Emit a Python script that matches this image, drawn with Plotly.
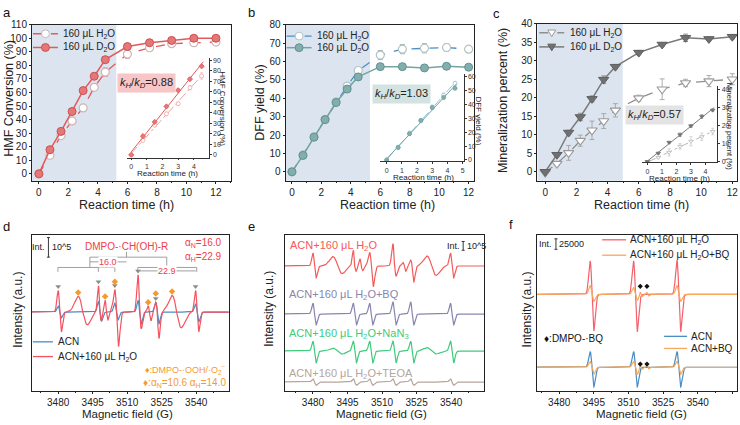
import numpy as np
import plotly.graph_objects as go

# ---------------- data ----------------
time_h = [0, 0.75, 1.5, 2.25, 3, 3.75, 4.5, 6, 7.5, 9, 10.5, 12]

hmf_h2o = [0, 13.7, 28.2, 39.0, 48.6, 63.8, 75.0, 88.3, 93.0, 96.0, 96.7, 97.2]
hmf_h2o_err = [0.5, 1, 1.5, 1.5, 1.5, 2, 3, 3, 1.5, 1.5, 1.5, 1.5]
hmf_d2o = [0, 17.8, 31.3, 46.0, 61.4, 72.0, 84.2, 93.9, 96.7, 98.4, 100, 100]
hmf_d2o_err = [0.5, 1, 1, 1, 1.5, 1, 1, 1, 1, 1, 1, 1]

dff_h2o = [0, 9.2, 19.2, 28.4, 38.0, 46.6, 55.1, 63.5, 66.7, 67.2, 67.6, 66.7]
dff_h2o_err = [0.5, 1, 1.5, 1.5, 1.5, 1.5, 1.5, 2.5, 2.5, 2.5, 2, 1.5]
dff_d2o = [0, 8.9, 18.8, 28.4, 37.7, 45.0, 51.6, 57.2, 57.2, 56.5, 57.4, 56.9]
dff_d2o_err = [0.5, 1, 1, 1, 1, 1, 1, 0.8, 0.8, 0.8, 0.8, 0.8]

min_h2o = [-0.2, 2.2, 5.1, 8.4, 11.2, 13.7, 16.6, 19.9, 22.3, 24.0, 24.5, 25.0]
min_h2o_err = [0.3, 0.5, 2, 1.5, 2.5, 2, 1.8, 0.8, 2.8, 1, 1.5, 1.5]
min_d2o = [0, 4.6, 10.6, 14.8, 19.7, 24.9, 28.4, 32.2, 34.4, 36.2, 35.9, 36.5]
min_d2o_err = [0.2, 0.5, 0.6, 1, 0.8, 1, 0.6, 0.6, 0.5, 1, 0.5, 0.6]

kinetic_labels = ["0.88", "1.03", "0.57"]
n_fit = 7  # points used in the inset linear fits (0-4.5 h)

# EPR spectra: line positions (G, positive lobe), up / down lobe heights, lobe half separation (G)
d_red_pos = [3480.0, 3488.7, 3497.5, 3500.4, 3504.6, 3514.7, 3519.1, 3522.4, 3529.5, 3539.7]
d_red_up = [22, 16, 27, 12, 23, 38, 6, 10, 17, 22]
d_red_down = [20, 13, 9, 8, 35, 17, 9, 27, 16, 20]
d_red_w = [0.7, 2.0, 0.6, 0.6, 0.8, 0.7, 0.6, 0.7, 2.0, 0.7]

chohr_pos = [3480.0, 3497.5, 3504.6, 3514.7, 3522.4, 3539.7]
d_blue_up = [6, 11, 9, 12, 10, 8]
d_blue_down = [6, 9, 8, 12, 12, 10]

d_tri_y = [26, 31, 27, 42, 14, 26]
ooh_pos = [3488.7, 3500.4, 3504.6, 3519.1, 3522.4, 3529.5]
d_dia_y = [20, 16, 31, 10, 19, 21]

e_red_scale = 0.6
e_bq_up = [11, 11, 11, 12.5, 12.5, 11]
e_bq_down = [11, 11, 11, 11, 11, 11]
e_nan3_up = [10, 10, 10, 10, 10, 10]
e_nan3_down = [12, 12, 12, 12, 12, 12]
e_nan3_ooh_pos = [3488.7, 3529.5]
e_nan3_ooh_up = [3, 3.5]
e_nan3_ooh_down = [3, 3]
e_teoa_up = [3.3, 3.3, 3.3, 3.3, 3.3, 3.3]
e_teoa_down = [3.3, 3.3, 3.3, 3.3, 3.3, 3.3]

f_pos = [3493.4, 3512.2, 3531.0]
f_red_up = [34, 34, 35]
f_red_down = [37, 38, 38]
f_or_top_up = [9, 7, 9]
f_or_top_down = [7, 6, 7]
f_blue_up = [16, 16, 16]
f_blue_down = [20, 20, 20]
f_or_bot_up = [6, 6, 6]
f_or_bot_down = [7, 7, 7]
bq_pos = [3515.1, 3518.0]
bq_up = [3, 2]
bq_down = [2, 1.5]

# ---------------- helpers ----------------
W, H = 740, 425
FONT = "Arial, Liberation Sans, sans-serif"


def X(px):
    return px / W


def Y(py):
    return 1 - py / H


def dom_x(a, b):
    return [a / W, b / W]


def dom_y(top, bottom):
    return [1 - bottom / H, 1 - top / H]


def spectrum(x, pos, up, down, w):
    y = np.zeros_like(x)
    if np.isscalar(w):
        w = [w] * len(pos)
    for p, a, b, s in zip(pos, up, down, w):
        u = (x - (p + s)) / s
        shape = -u * np.exp(0.5 - u ** 2 / 2)
        y += np.where(u < 0, a, b) * shape
    return y


fig = go.Figure()


def add(x, y, xa, ya, **kw):
    fig.add_trace(go.Scatter(x=x, y=y, xaxis=xa, yaxis=ya, showlegend=False,
                             hoverinfo="skip", **kw))


ann, shp = [], []


def text(x, y, s, size=10, color="#222", xanchor="center", yanchor="middle", angle=0, **kw):
    ann.append(dict(x=X(x), y=Y(y), xref="paper", yref="paper", text=s, showarrow=False,
                    font=dict(size=size, color=color, family=FONT), xanchor=xanchor,
                    yanchor=yanchor, textangle=angle, **kw))


def pline(x0, y0, x1, y1, color="#888", width=0.8, dash="solid"):
    shp.append(dict(type="line", xref="paper", yref="paper", x0=X(x0), y0=Y(y0), x1=X(x1),
                    y1=Y(y1), line=dict(color=color, width=width, dash=dash)))


def pcircle(cx, cy, r, fill, edge):
    shp.append(dict(type="circle", xref="paper", yref="paper", x0=X(cx - r), x1=X(cx + r),
                    y0=Y(cy + r), y1=Y(cy - r), fillcolor=fill, line=dict(color=edge, width=1)))


def ptri(cx, cy, r, fill, edge):
    pts = [(cx - r, cy - 0.7 * r), (cx + r, cy - 0.7 * r), (cx, cy + r)]
    path = "M " + " L ".join(f"{X(a):.5f},{Y(b):.5f}" for a, b in pts) + " Z"
    shp.append(dict(type="path", xref="paper", yref="paper", path=path, fillcolor=fill,
                    line=dict(color=edge, width=1)))


# ---------------- colours ----------------
SHADE = "#dce5ef"
A_RED = "#e25a5a"
A_FILL = "#e47878"
A_EDGE = "#cf4f4f"
A_OPEN = "#cdb5b5"
B_BLUE = "#4a8ec8"
B_TEAL = "#74a3a1"
B_FILL = "#84aead"
B_EDGE = "#5f9391"
B_OPEN = "#b3c3c3"
C_DARK = "#7a7a7a"
C_FILL = "#707070"
C_LIGHT = "#8f8f8f"
D_RED = "#f4525e"
D_BLUE = "#4a8cc4"
E_RED = "#f45a5a"
E_PUR = "#8886ae"
E_GRN = "#3ecb7c"
E_BRN = "#b5a59b"
F_RED = "#f4606c"
F_ORA = "#f7a859"
ORANGE_T = "#f59a30"

t_fit = time_h[:n_fit]

# ---------------- panel a ----------------
add(time_h, hmf_h2o, "x", "y", mode="lines+markers",
    line=dict(color=A_RED, width=1.3, dash="dash"),
    marker=dict(symbol="circle", size=8, color="white", line=dict(color=A_OPEN, width=1.2)),
    error_y=dict(type="data", array=hmf_h2o_err, color=A_RED, thickness=0.8, width=2.5))
add(time_h, hmf_d2o, "x", "y", mode="lines+markers",
    line=dict(color=A_RED, width=1.5),
    marker=dict(symbol="circle", size=8, color=A_FILL, line=dict(color=A_EDGE, width=1)),
    error_y=dict(type="data", array=hmf_d2o_err, color=A_RED, thickness=0.8, width=2.5))

# inset a
for vals, err, col, dash, sym, fill in [
        (hmf_h2o, hmf_h2o_err, "#f2a3a3", "dashdot", "circle", "white"),
        (hmf_d2o, hmf_d2o_err, A_RED, "solid", "diamond", A_FILL)]:
    k, b0 = np.polyfit(t_fit, vals[:n_fit], 1)
    add([0, 4.6], [b0, b0 + k * 4.6], "x7", "y7", mode="lines", line=dict(color=col, width=1, dash=dash))
    add(t_fit, vals[:n_fit], "x7", "y7", mode="markers",
        marker=dict(symbol=sym, size=4, color=fill, line=dict(color=col, width=0.8)),
        error_y=dict(type="data", array=err[:n_fit], color=col, thickness=0.6, width=1.5))

# ---------------- panel b ----------------
add(time_h, dff_h2o, "x2", "y2", mode="lines+markers",
    line=dict(color=B_BLUE, width=1.3, dash="dash"),
    marker=dict(symbol="circle", size=8, color="white", line=dict(color=B_OPEN, width=1.2)),
    error_y=dict(type="data", array=dff_h2o_err, color="#8aa0a0", thickness=0.8, width=2.5))
add(time_h, dff_d2o, "x2", "y2", mode="lines+markers",
    line=dict(color=B_TEAL, width=1.5),
    marker=dict(symbol="circle", size=8, color=B_FILL, line=dict(color=B_EDGE, width=1)),
    error_y=dict(type="data", array=dff_d2o_err, color=B_TEAL, thickness=0.8, width=2.5))

for vals, err, col, dash, fill in [
        (dff_h2o, dff_h2o_err, "#8ec0de", "dash", "white"),
        (dff_d2o, dff_d2o_err, B_TEAL, "solid", B_FILL)]:
    k, b0 = np.polyfit(t_fit, vals[:n_fit], 1)
    add([0, 4.6], [b0, b0 + k * 4.6], "x8", "y8", mode="lines", line=dict(color=col, width=1, dash=dash))
    add(t_fit, vals[:n_fit], "x8", "y8", mode="markers",
        marker=dict(symbol="circle", size=4, color=fill, line=dict(color=col, width=0.8)),
        error_y=dict(type="data", array=err[:n_fit], color=col, thickness=0.6, width=1.5))

# ---------------- panel c ----------------
add(time_h, min_h2o, "x3", "y3", mode="lines+markers",
    line=dict(color=C_LIGHT, width=1.3, dash="dash"),
    marker=dict(symbol="triangle-down", size=9, color="white", line=dict(color="#9a9a9a", width=1.1)),
    error_y=dict(type="data", array=min_h2o_err, color="#9a9a9a", thickness=0.8, width=2.5))
add(time_h, min_d2o, "x3", "y3", mode="lines+markers",
    line=dict(color=C_DARK, width=1.5),
    marker=dict(symbol="triangle-down", size=9, color=C_FILL, line=dict(color="#606060", width=1)),
    error_y=dict(type="data", array=min_d2o_err, color=C_DARK, thickness=0.8, width=2.5))

for vals, err, col, dash, fill in [
        (min_h2o, min_h2o_err, "#b8b8b8", "dashdot", "white"),
        (min_d2o, min_d2o_err, C_DARK, "solid", C_FILL)]:
    k, b0 = np.polyfit(t_fit, vals[:n_fit], 1)
    add([0, 4.6], [b0, b0 + k * 4.6], "x9", "y9", mode="lines", line=dict(color=col, width=1, dash=dash))
    add(t_fit, vals[:n_fit], "x9", "y9", mode="markers",
        marker=dict(symbol="triangle-down", size=4, color=fill, line=dict(color=col, width=0.8)),
        error_y=dict(type="data", array=err[:n_fit], color=col, thickness=0.6, width=1.5))

# ---------------- EPR panels ----------------
field = np.arange(3465.0, 3558.0, 0.05)

# d
add(field, spectrum(field, chohr_pos, d_blue_up, d_blue_down, 0.7), "x4", "y4", mode="lines",
    line=dict(color=D_BLUE, width=1.2))
add(field, spectrum(field, d_red_pos, d_red_up, d_red_down, d_red_w), "x4", "y4", mode="lines",
    line=dict(color=D_RED, width=1.2))
add(chohr_pos, d_tri_y, "x4", "y4", mode="markers",
    marker=dict(symbol="triangle-down", size=5, color="#8c8c8c"))
add(ooh_pos, d_dia_y, "x4", "y4", mode="markers",
    marker=dict(symbol="diamond", size=5, color=ORANGE_T))

# e (stacked)
e_off = [47, -2, -39.7, -71.3]
red_e = spectrum(field, d_red_pos, d_red_up, d_red_down, d_red_w) * e_red_scale
add(field, red_e + e_off[0], "x5", "y5", mode="lines", line=dict(color=E_RED, width=1.2))
add(field, spectrum(field, chohr_pos, e_bq_up, e_bq_down, 0.7) + e_off[1], "x5", "y5",
    mode="lines", line=dict(color=E_PUR, width=1.2))
add(field, spectrum(field, chohr_pos, e_nan3_up, e_nan3_down, 0.7)
    + spectrum(field, e_nan3_ooh_pos, e_nan3_ooh_up, e_nan3_ooh_down, 2.0) + e_off[2],
    "x5", "y5", mode="lines", line=dict(color=E_GRN, width=1.2))
add(field, spectrum(field, chohr_pos, e_teoa_up, e_teoa_down, 0.7) + e_off[3], "x5", "y5",
    mode="lines", line=dict(color=E_BRN, width=1.2))

# f
f_top, f_bot = 18, -56.3
add(field, spectrum(field, f_pos, f_red_up, f_red_down, 0.8) + f_top, "x6", "y6", mode="lines",
    line=dict(color=F_RED, width=1.2))
add(field, spectrum(field, f_pos, f_or_top_up, f_or_top_down, 0.8)
    + spectrum(field, bq_pos, bq_up, bq_down, 0.4) + f_top, "x6", "y6", mode="lines",
    line=dict(color=F_ORA, width=1.2))
add(field, spectrum(field, f_pos, f_blue_up, f_blue_down, 0.8) + f_bot, "x6", "y6", mode="lines",
    line=dict(color=D_BLUE, width=1.2))
add(field, spectrum(field, f_pos, f_or_bot_up, f_or_bot_down, 0.8)
    + spectrum(field, bq_pos, bq_up, bq_down, 0.4) + f_bot, "x6", "y6", mode="lines",
    line=dict(color=F_ORA, width=1.2))
add(bq_pos, [f_top + 8.3] * 2, "x6", "y6", mode="markers",
    marker=dict(symbol="diamond", size=4, color="#111"))
add(bq_pos, [f_bot + 3.3] * 2, "x6", "y6", mode="markers",
    marker=dict(symbol="diamond", size=4, color="#111"))


# ---------------- axes ----------------
def main_ax(**kw):
    d = dict(showline=True, mirror=True, linecolor="#222", linewidth=1, ticks="outside",
             ticklen=2, tickwidth=1, tickcolor="#222",
             tickfont=dict(size=10, color="#222", family=FONT), showgrid=False, zeroline=False)
    d.update(kw)
    return d


def inset_ax(**kw):
    d = dict(showline=True, linecolor="#333", linewidth=0.8, ticks="outside", ticklen=2,
             tickwidth=0.8, tickcolor="#333", tickfont=dict(size=7, color="#333", family=FONT),
             showgrid=False, zeroline=False)
    d.update(kw)
    return d


minor_t = dict(ticks="outside", ticklen=1.5, dtick=1, tickcolor="#222")
minor_g = dict(ticks="outside", ticklen=1.5, dtick=7.5, tickcolor="#222")

fig.update_layout(
    xaxis=main_ax(domain=dom_x(32, 231), range=[-0.47, 13.0], tick0=0, dtick=2, anchor="y", minor=minor_t),
    yaxis=main_ax(domain=dom_y(20, 179), range=[-5, 110.05], dtick=10, anchor="x"),
    xaxis2=main_ax(domain=dom_x(286, 475), range=[-0.43, 12.39], tick0=0, dtick=2, anchor="y2", minor=minor_t),
    yaxis2=main_ax(domain=dom_y(20, 179), range=[-4.8, 80.05], dtick=10, anchor="x2"),
    xaxis3=main_ax(domain=dom_x(538, 738), range=[-0.51, 12.3], tick0=0, dtick=2, anchor="y3", minor=minor_t),
    yaxis3=main_ax(domain=dom_y(19, 179), range=[-2.4, 40.03], dtick=5, anchor="x3"),
    xaxis4=main_ax(domain=dom_x(32, 229), range=[3468.6, 3554.1], tick0=3480, dtick=15, anchor="y4", minor=minor_g),
    yaxis4=main_ax(domain=dom_y(234, 393), range=[-80, 79], showticklabels=False, ticks="", anchor="x4"),
    xaxis5=main_ax(domain=dom_x(285, 485), range=[3467.7, 3554.4], tick0=3480, dtick=15, anchor="y5", minor=minor_g),
    yaxis5=main_ax(domain=dom_y(234, 393), range=[-80, 79], showticklabels=False, ticks="", anchor="x5"),
    xaxis6=main_ax(domain=dom_x(538, 738), range=[3470.5, 3557.0], tick0=3480, dtick=15, anchor="y6", minor=minor_g),
    yaxis6=main_ax(domain=dom_y(234, 393), range=[-80, 79], showticklabels=False, ticks="", anchor="x6"),
    xaxis7=inset_ax(domain=dom_x(126.7, 209), range=[-0.3, 4.95], dtick=1, anchor="y7"),
    yaxis7=inset_ax(domain=dom_y(54, 155.5), range=[-2.6, 92.1], dtick=10, side="right", anchor="x7"),
    xaxis8=inset_ax(domain=dom_x(381, 464.3), range=[-0.41, 5.07], dtick=1, anchor="y8"),
    yaxis8=inset_ax(domain=dom_y(70, 159.5), range=[-1.1, 62.1], dtick=10, side="right", anchor="x8"),
    xaxis9=inset_ax(domain=dom_x(643.3, 718.3), range=[-0.34, 4.82], dtick=1, anchor="y9"),
    yaxis9=inset_ax(domain=dom_y(83, 160.5), range=[-0.5, 41.5], dtick=10, side="right", anchor="x9"),
)

# shaded regions (first ~5.25 h)
for xa, ya, x0, x1 in [("x", "y", -0.47, 5.25), ("x2", "y2", -0.43, 5.3), ("x3", "y3", -0.51, 4.97)]:
    shp.append(dict(type="rect", xref=xa, yref=ya + " domain", x0=x0, x1=x1, y0=0, y1=1,
                    fillcolor=SHADE, line=dict(width=0), layer="below"))

# ---------------- manual legends ----------------
LEG = 10
# a
pline(33, 29.3, 58, 29.3, A_RED, 1.3, "dash"); pcircle(45.5, 29.3, 4, "white", A_OPEN)
text(61.5, 29.3, "160 μL H<sub>2</sub>O", LEG, xanchor="left")
pline(33, 43.3, 58, 43.3, A_RED, 1.5); pcircle(45.5, 43.3, 4, A_FILL, A_EDGE)
text(61.5, 43.3, "160 μL D<sub>2</sub>O", LEG, xanchor="left")
# b
pline(287, 31.7, 312, 31.7, B_BLUE, 1.3, "dash"); pcircle(299.5, 31.7, 4, "white", B_OPEN)
text(315, 31.7, "160 μL H<sub>2</sub>O", LEG, xanchor="left")
pline(287, 43.5, 312, 43.5, B_TEAL, 1.5); pcircle(299.5, 43.5, 4, B_FILL, B_EDGE)
text(315, 43.5, "160 μL D<sub>2</sub>O", LEG, xanchor="left")
# c
pline(540, 28.3, 565, 28.3, C_LIGHT, 1.3, "dash"); ptri(552.5, 28.3, 4, "white", "#9a9a9a")
text(568.5, 28.3, "160 μL H<sub>2</sub>O", LEG, xanchor="left")
pline(540, 42.7, 565, 42.7, C_DARK, 1.5); ptri(552.5, 42.7, 4, C_FILL, "#606060")
text(568.5, 42.7, "160 μL D<sub>2</sub>O", LEG, xanchor="left")
# d
pline(33, 343.3, 53, 343.3, D_BLUE, 1.3); text(56.5, 343.3, "ACN", LEG, xanchor="left")
pline(33, 358.3, 53, 358.3, D_RED, 1.3); text(56.5, 358.3, "ACN+160 μL H<sub>2</sub>O", LEG, xanchor="left")
# f
pline(603, 239.3, 627, 239.3, F_RED, 1.3); text(628.5, 239.3, "ACN+160 μL H<sub>2</sub>O", LEG, xanchor="left")
pline(603, 255, 627, 255, F_ORA, 1.3); text(628.5, 255, "ACN+160 μL H<sub>2</sub>O+BQ", LEG, xanchor="left")
pline(665, 337.7, 688, 337.7, D_BLUE, 1.3); text(690, 337.7, "ACN", LEG, xanchor="left")
pline(665, 350, 688, 350, F_ORA, 1.3); text(690, 350, "ACN+BQ", LEG, xanchor="left")

# ---------------- kH/kD boxes ----------------
kk = "<i>k</i><sub><i>H</i></sub>/<i>k</i><sub><i>D</i></sub>="
text(146.3, 79.5, kk + kinetic_labels[0], 11, bgcolor="#f8c6c6", borderpad=2)
text(402.5, 90.8, kk + kinetic_labels[1], 11, bgcolor="#d2e3e1", borderpad=2)
text(655.8, 112.2, kk + kinetic_labels[2], 11, bgcolor="#e3e3e3", borderpad=2)

# ---------------- titles ----------------
RT = 12.5
text(127, 203.5, "Reaction time (h)", RT)
text(388, 203.5, "Reaction time (h)", RT)
text(642, 203.5, "Reaction time (h)", RT)
text(9.5, 95, "HMF Conversion (%)", 12.5, angle=-90)
text(260, 100, "DFF yield (%)", 12.5, angle=-90)
text(503.5, 97, "Mineralization percent (%)", 12.5, angle=-90)
text(128, 417, "Magnetic field (G)", 11.5)
text(382, 417, "Magnetic field (G)", 11.5)
text(642, 417, "Magnetic field (G)", 11.5)
text(18.5, 310, "Intensity (a.u.)", 12, angle=-90)
text(270, 310, "Intensity (a.u.)", 12, angle=-90)
text(528, 310, "Intensity (a.u.)", 12, angle=-90)

# inset titles
text(168, 172, "Reaction time (h)", 8)
text(223, 106, "HMF Conversion (%)", 8, angle=90)
text(424, 175.5, "Reaction time (h)", 8)
text(479, 118, "DFF yield (%)", 8, angle=90)
text(680, 176.5, "Reaction time (h)", 8)
text(730, 124, "Mineralization percent (%)", 7.5, angle=90)

# panel letters
for lx, ly, s in [(7, 8, "a"), (252, 8, "b"), (497, 9, "c"), (7, 226, "d"), (252, 226, "e"), (512, 224, "f")]:
    text(lx, ly, s, 13, "#111")

# ---------------- panel d annotations ----------------
text(126.7, 246, "DMPO-·CH(OH)-R", 10, "#f03c46")
text(224, 243, "α<sub>N</sub>=16.0", 10, "#f03c46", xanchor="right")
text(224, 257, "α<sub>H</sub>=22.9", 10, "#f03c46", xanchor="right")
text(228, 371.5, "♦:DMPO-·OOH/·O<sub>2</sub><sup>−</sup>", 9, ORANGE_T, xanchor="right")
text(228, 385.5, "♦:α<sub>N</sub>=10.6 α<sub>H</sub>=14.0", 10, ORANGE_T, xanchor="right")
# splitting tree
pline(126.7, 251.5, 126.7, 257)
pline(90, 257, 167, 257)
pline(90, 257, 90, 267.5)
pline(167, 257, 167, 267.5)
pline(58, 267.5, 115, 267.5)
pline(138, 267.5, 197, 267.5)
for xx in [58, 98.5, 115, 138, 197]:
    pline(xx, 267.5, xx, 272)
pline(90, 261.8, 126.7, 261.8)
text(108, 261.8, "16.0", 9, "#f03c46", bgcolor="white", borderpad=0)
pline(140, 271, 196, 271)
text(167, 271, "22.9", 9, "#f03c46", bgcolor="white", borderpad=0)


# intensity scale bars
def scalebar(x, y0, y1, left, right, size=9):
    pline(x, y0, x, y1, "#222", 0.9)
    pline(x - 1.5, y0, x + 1.5, y0, "#222", 0.9)
    pline(x - 1.5, y1, x + 1.5, y1, "#222", 0.9)
    text(x - 1.5, (y0 + y1) / 2, left, size, xanchor="right")
    text(x + 1.5, (y0 + y1) / 2, right, size, xanchor="left")


scalebar(48.5, 237, 257, "Int.", "10^5")
scalebar(463.8, 241, 250, "Int.", "10^5")
scalebar(556.7, 238.3, 249, "Int.", "25000")

# ---------------- panel e labels ----------------
text(288, 245.7, "ACN+160 μL H<sub>2</sub>O", 11, E_RED, xanchor="left")
text(287, 295.7, "ACN+160 μL H<sub>2</sub>O+BQ", 11, E_PUR, xanchor="left")
text(287, 335, "ACN+160 μL H<sub>2</sub>O+NaN<sub>3</sub>", 11, E_GRN, xanchor="left")
text(287, 375.7, "ACN+160 μL H<sub>2</sub>O+TEOA", 11, E_BRN, xanchor="left")

# panel f note
text(543, 340, "♦:DMPO-·BQ", 10, "#111", xanchor="left")

fig.update_layout(width=W, height=H, margin=dict(l=0, r=0, t=0, b=0), paper_bgcolor="white",
                  plot_bgcolor="rgba(0,0,0,0)", showlegend=False, font=dict(family=FONT),
                  annotations=ann, shapes=shp)

fig.write_html("out.html", config={"displayModeBar": False},
               post_script="document.body.style.margin='0';document.body.style.padding='0';")
